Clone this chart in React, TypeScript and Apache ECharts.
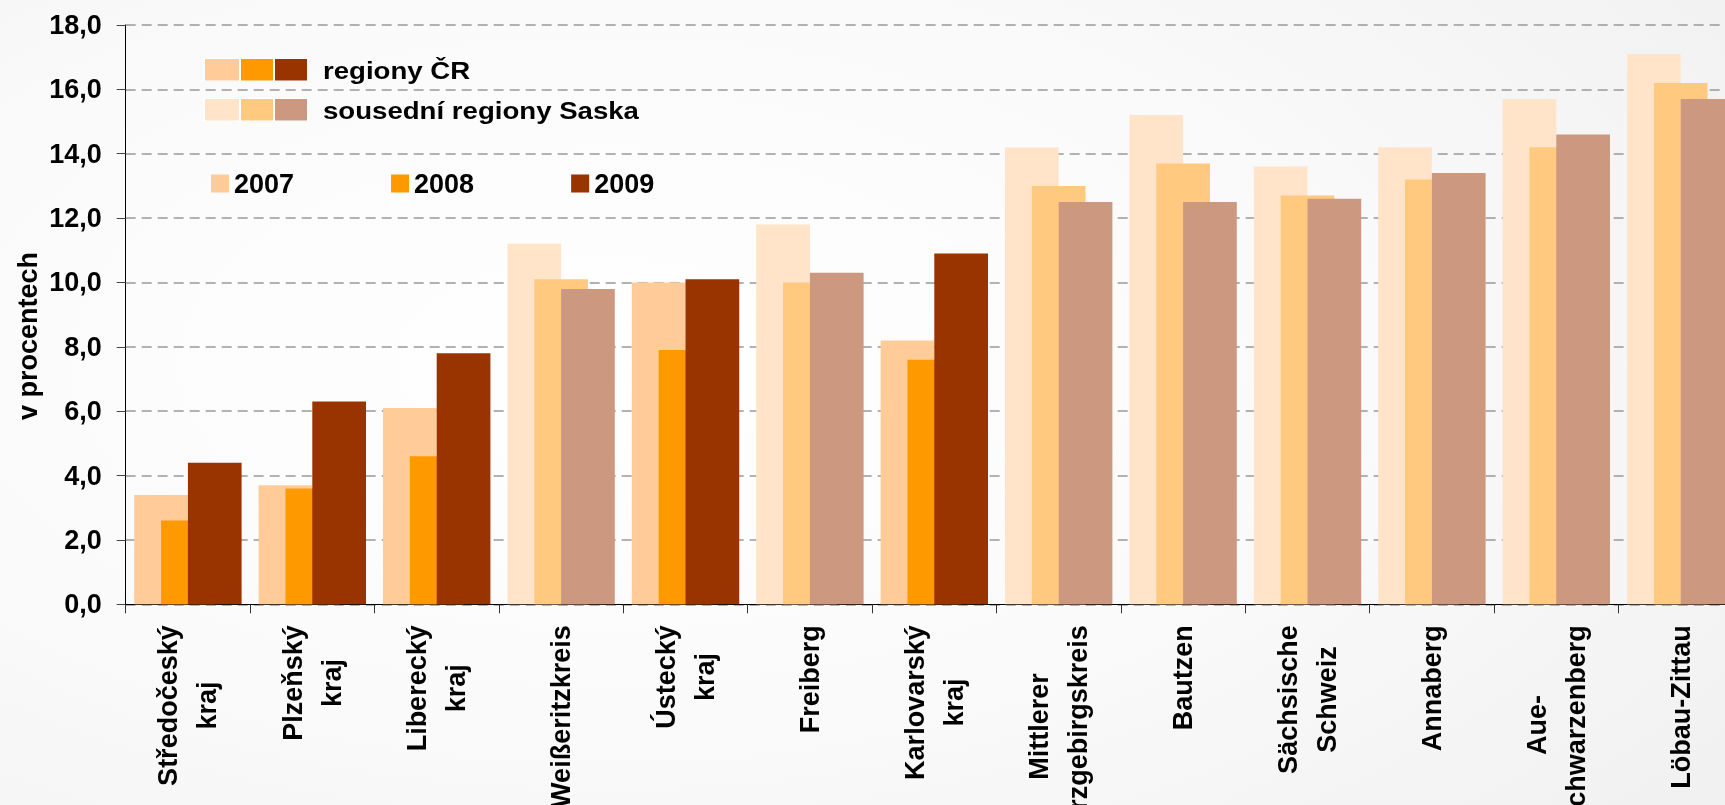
import React, { useEffect, useRef } from 'react';
import * as echarts from 'echarts';

const categories = [
  'Středočeský\nkraj',
  'Plzeňský\nkraj',
  'Liberecký\nkraj',
  'Weißeritzkreis',
  'Ústecký\nkraj',
  'Freiberg',
  'Karlovarský\nkraj',
  'Mittlerer\nErzgebirgskreis',
  'Bautzen',
  'Sächsische\nSchweiz',
  'Annaberg',
  'Aue-\nSchwarzenberg',
  'Löbau-Zittau',
];
const regionType = ['cz', 'cz', 'cz', 'sn', 'cz', 'sn', 'cz', 'sn', 'sn', 'sn', 'sn', 'sn', 'sn'];
const years = ['2007', '2008', '2009'];
const values2007 = [3.4, 3.7, 6.1, 11.2, 10.0, 11.8, 8.2, 14.2, 15.2, 13.6, 14.2, 15.7, 17.1];
const values2008 = [2.6, 3.6, 4.6, 10.1, 7.9, 10.0, 7.6, 13.0, 13.7, 12.7, 13.2, 14.2, 16.2];
const values2009 = [4.4, 6.3, 7.8, 9.8, 10.1, 10.3, 10.9, 12.5, 12.5, 12.6, 13.4, 14.6, 15.7];
const yMin = 0;
const yMax = 18;
const yInterval = 2;
const czColors = ['#FFCC99', '#FF9900', '#993300'];
const snColors = ['#FFE4C9', '#FFCA80', '#CC9880'];
const groupLabels = ['regiony ČR', 'sousední regiony Saska'];
const yAxisTitle = 'v procentech';

const FONT = "'Liberation Sans', Arial, Helvetica, sans-serif";

export default function App() {
  const ref = useRef<HTMLDivElement>(null);

  useEffect(() => {
    if (!ref.current) return;
    const chart = echarts.init(ref.current, undefined, { renderer: 'svg' });
    const seriesValues = [values2007, values2008, values2009];

    const gridLeft = 125.7;
    const gridTop = 25;
    const catWidth = 124.4;
    const gridHeight = 579.3;

    const legendGraphics: any[] = [];
    const groupColors = [czColors, snColors];
    const rowTops = [59, 99];
    const sqX = [205, 241, 275];
    const sqW = [34, 32, 32];
    groupColors.forEach((cols, r) => {
      legendGraphics.push({
        type: 'rect',
        shape: { x: 203, y: rowTops[r] - 1, width: 106, height: 23 },
        style: { fill: '#FFFFFF' },
        silent: true,
      });
      cols.forEach((c, k) => {
        legendGraphics.push({
          type: 'rect',
          shape: { x: sqX[k], y: rowTops[r], width: sqW[k], height: 21.5 },
          style: { fill: c },
          silent: true,
        });
      });
      legendGraphics.push({
        type: 'text',
        x: 323,
        y: rowTops[r] + 11.5,
        scaleX: 1.15,
        style: {
          text: groupLabels[r],
          font: `bold 24px ${FONT}`,
          fill: '#000',
          textAlign: 'left',
          textVerticalAlign: 'middle',
        },
        silent: true,
      });
    });
    legendGraphics.push({
      type: 'text',
      x: 28,
      y: 336,
      rotation: Math.PI / 2,
      style: {
        text: yAxisTitle,
        font: `bold 27px ${FONT}`,
        fill: '#000',
        textAlign: 'center',
        textVerticalAlign: 'middle',
      },
      silent: true,
    });

    chart.setOption({
      animation: false,
      backgroundColor: 'transparent',
      textStyle: { fontFamily: FONT },
      grid: {
        left: gridLeft,
        top: gridTop,
        width: catWidth * categories.length,
        height: gridHeight,
        containLabel: false,
        outerBoundsMode: 'none',
      },
      legend: {
        data: years,
        left: 211,
        top: 170,
        padding: 0,
        itemWidth: 18,
        itemHeight: 18,
        itemGap: 97,
        icon: 'rect',
        selectedMode: false,
        textStyle: { fontSize: 27, fontWeight: 'bold', color: '#000', fontFamily: FONT },
      },
      xAxis: {
        type: 'category',
        data: categories,
        axisLine: { show: true, lineStyle: { color: '#000', width: 1 } },
        axisTick: { show: true, length: 9, lineStyle: { color: '#333', width: 1 } },
        axisLabel: {
          interval: 0,
          rotate: 90,
          margin: 21,
          color: '#000',
          fontSize: 27,
          fontWeight: 'bold',
          fontFamily: FONT,
          lineHeight: 39,
          formatter: (v: string) =>
            v
              .split('\n')
              .map((s) => `{c|${s}}`)
              .join('\n'),
          rich: {
            c: {
              align: 'center',
              fontSize: 27,
              fontWeight: 'bold',
              fontFamily: FONT,
              lineHeight: 39,
              color: '#000',
            },
          },
        },
        splitLine: { show: false },
      },
      yAxis: {
        type: 'value',
        min: yMin,
        max: yMax,
        interval: yInterval,
        axisLine: { show: true, lineStyle: { color: '#000', width: 1 } },
        axisTick: { show: true, length: 9, lineStyle: { color: '#444', width: 1 } },
        axisLabel: {
          margin: 24,
          color: '#000',
          fontSize: 27,
          fontWeight: 'bold',
          fontFamily: FONT,
          formatter: (v: number) => v.toFixed(1).replace('.', ','),
        },
        splitLine: {
          show: true,
          lineStyle: { color: '#999', width: 1.5, type: [10, 6] },
        },
      },
      series: years.map((y, i) => ({
        name: y,
        type: 'bar',
        barWidth: 53.7,
        barGap: '-50%',
        itemStyle: { color: czColors[i] },
        emphasis: { disabled: true },
        data: seriesValues[i].map((v, j) => ({
          value: v,
          itemStyle: { color: regionType[j] === 'cz' ? czColors[i] : snColors[i] },
        })),
      })),
      graphic: legendGraphics,
    });

    return () => chart.dispose();
  }, []);

  return (
    <div
      ref={ref}
      style={{
        position: 'fixed',
        left: 0,
        top: 0,
        width: 1725,
        height: 805,
        overflow: 'hidden',
        background:
          'radial-gradient(ellipse 120% 130% at 35% 45%, #FFFFFF 0%, #FAFAFA 35%, #F0F0F0 70%, #E6E6E6 100%)',
      }}
    />
  );
}
